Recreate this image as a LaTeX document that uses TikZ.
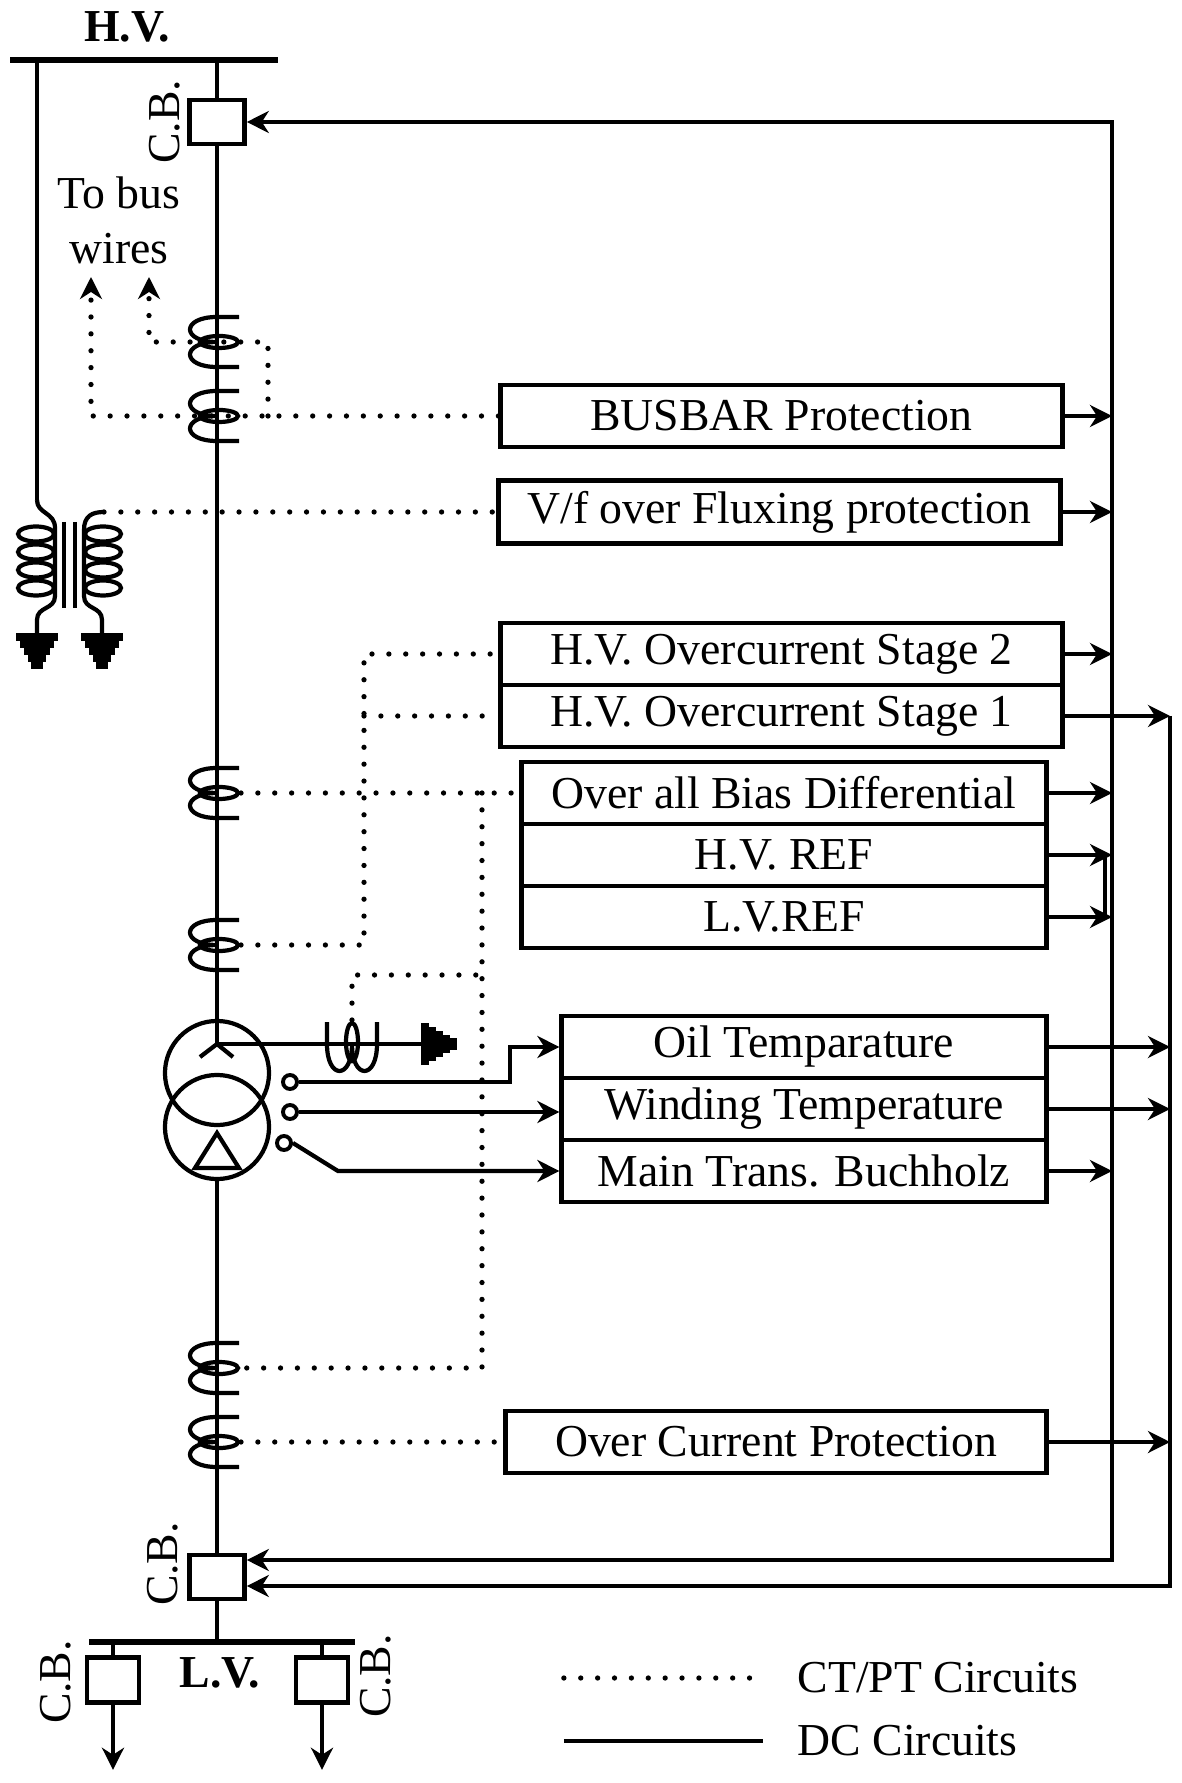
\documentclass[tikz,border=0pt]{standalone}
\usepackage{fontspec}
\setmainfont{Liberation Serif}
\usetikzlibrary{arrows.meta}

\newcommand\diafont{\fontsize{13pt}{15.6pt}\selectfont}

\tikzset{
  wire/.style={line width=1.2pt},
  bus/.style={line width=1.5pt},
  dc/.style={line width=1.2pt},
  ctpt/.style={line width=1.5pt, line cap=round, dash pattern=on 0pt off 4.8pt},
  relay/.style={draw, line width=1.4pt, minimum height=0.62cm, inner sep=0pt},
  breaker/.style={draw, line width=1.3pt, fill=white, minimum width=0.55cm, minimum height=0.44cm, inner sep=0pt},
  winding/.style={draw, circle, line width=1.2pt, minimum size=1.04cm, inner sep=0pt},
  tap/.style={draw, circle, line width=1.1pt, minimum size=0.14cm, inner sep=0pt},
  txt/.style={inner sep=0pt},
  ct/.pic={
    \draw[wire] (22,-25) -- (0,-25) .. controls (-36,-25) and (-36,0) .. (0,0)
                .. controls (-36,0) and (-36,25) .. (0,25) -- (22,25);
    \draw[wire] (2,0) ellipse [x radius=19, y radius=6];
    \coordinate (-c) at (0,0);
    \coordinate (-o) at (24,0);
  },
  earth/.pic={
    \foreach \w [count=\i from 0] in {21,17,13,9,6}
      \draw[line width=2pt] (-\w,7*\i) -- (\w,7*\i);
  },
}

\begin{document}
\begin{tikzpicture}[x=0.01cm, y=-0.01cm, font=\diafont,
  >={Stealth[length=0.22cm, width=0.22cm, inset=0.07cm]}]
\useasboundingbox (0,0) rectangle (1181,1783);

% H.V. bus and breaker
\node[txt, font=\diafont\bfseries] (hvlbl) at (127,27) {H.V.};
\coordinate (hvL) at (10,60);
\coordinate (hvR) at (278,60);
\draw[bus] (hvL) -- (hvR);
\node[breaker] (cbhv) at (217,122) {};
\node[txt, rotate=90] (cbhvlbl) at (165,122) {C.B.};
\draw[wire] (cbhv.north |- hvL) -- (cbhv.north);

% transformer
\node[winding] (trhv) at (217,1073) {};
\node[winding] (trlv) at (217,1127) {};
\coordinate (star) at (217,1044);
\draw[wire] (cbhv.south) -- (star);
\draw[wire] (200,1057) -- (star) -- (233,1057);
\draw[wire] (217,1133) -- (239,1168) -- (195,1168) -- cycle;
\coordinate (gndN) at (425,1044);
\draw[wire] (star) -- (gndN);
\pic[rotate=90] at (gndN) {earth};
\pic[rotate=90] (ctN) at (352,1044) {ct};

% current transformers
\pic (ct1) at (217,342) {ct};
\pic (ct2) at (217,416) {ct};
\pic (ctA) at (217,793) {ct};
\pic (ctB) at (217,945) {ct};
\pic (ctC) at (217,1368) {ct};
\pic (ctD) at (217,1442) {ct};

% L.V. side
\node[breaker] (cblv) at (217,1577) {};
\node[txt, rotate=90] (cblvlbl) at (163,1564) {C.B.};
\draw[wire] (trlv.south) -- (cblv.north);
\coordinate (lvL) at (89,1642);
\coordinate (lvR) at (355,1642);
\draw[bus] (lvL) -- (lvR);
\draw[wire] (cblv.south) -- (cblv.south |- lvL);
\node[breaker, minimum width=0.52cm, minimum height=0.45cm] (cbl) at (113,1680) {};
\node[breaker, minimum width=0.52cm, minimum height=0.45cm] (cbr) at (322,1680) {};
\draw[wire] (cbl.north |- lvL) -- (cbl.north);
\draw[wire] (cbr.north |- lvL) -- (cbr.north);
\draw[wire,->] (cbl.south) -- ++(0,65);
\draw[wire,->] (cbr.south) -- ++(0,65);
\node[txt, rotate=90] (cbllbl) at (56,1682) {C.B.};
\node[txt, rotate=90] (cbrlbl) at (376,1676) {C.B.};
\node[txt, font=\diafont\bfseries] (lvlbl) at (220,1673) {L.V.};

% potential transformer
\coordinate (ptP) at (37,500);
\coordinate (ptout) at (104,512);
\draw[wire] (ptP |- hvL) -- (ptP);
\draw[wire] (ptP) .. controls (37,514) and (55,512) .. (55,528) -- (55,596)
            .. controls (55,610) and (37,606) .. (37,620) -- (37,637);
\draw[wire] (ptout) .. controls (92,512) and (84,516) .. (84,530) -- (84,596)
            .. controls (84,610) and (102,606) .. (102,620) -- (102,637);
\foreach \yy in {534,552,570,588} {
  \draw[wire] (36,\yy) ellipse [x radius=18, y radius=7.5];
  \draw[wire] (103,\yy) ellipse [x radius=18, y radius=7.5];
}
\draw[wire] (64,522) -- (64,608);
\draw[wire] (75,522) -- (75,608);
\pic at (37,637) {earth};
\pic at (102,637) {earth};

% relays
\node[relay, minimum width=5.61cm] (busbar) at (781.5,416) {BUSBAR Protection};
\node[relay, minimum width=5.61cm, minimum height=0.63cm] (vf) at (779.5,512) {V/f over Fluxing protection};
\node[relay, minimum width=5.61cm] (hvoc2) at (781.5,654) {H.V. Overcurrent Stage 2};
\node[relay, minimum width=5.61cm] (hvoc1) at (781.5,716) {H.V. Overcurrent Stage 1};
\node[relay, minimum width=5.24cm] (bias) at (784,793) {Over all Bias Differential};
\node[relay, minimum width=5.24cm] (hvref) at (784,855) {H.V. REF};
\node[relay, minimum width=5.24cm] (lvref) at (784,917) {L.V.REF};
\node[relay, minimum width=4.84cm] (oil) at (804,1047) {Oil Temparature};
\node[relay, minimum width=4.84cm] (wind) at (804,1109) {Winding Temperature};
\node[relay, minimum width=4.84cm] (buch) at (804,1171) {Main Trans. Buchholz};
\node[relay, minimum width=5.40cm] (ocp) at (776,1442) {Over Current Protection};

% DC trip circuits
\coordinate (dcA) at (1112,1560);
\coordinate (dcB) at (1170,1586);
\draw[dc,<->] (cbhv.east) -| (dcA) -- (dcA -| cblv.east);
\draw[dc,->] (dcB |- hvoc1.east) -- (dcB) -- (dcB -| cblv.east);
\foreach \n in {busbar, vf, hvoc2, bias, hvref, lvref, buch}
  \draw[dc,->] (\n.east) -- (\n.east -| dcA);
\foreach \n in {hvoc1, oil, wind, ocp}
  \draw[dc,->] (\n.east) -- (\n.east -| dcB);
\coordinate (refjoin) at (1105,855);
\draw[dc] (hvref.east -| refjoin) -- (lvref.east -| refjoin);

% transformer taps
\node[tap] (t1) at (290,1082) {};
\node[tap] (t2) at (290,1112) {};
\node[tap] (t3) at (284,1143) {};
\draw[dc,->] (t1.east) -- ++(211,0) |- (oil.west);
\draw[dc,->] (t2.east) -- (t2.east -| wind.west);
\draw[dc,->] (t3.east) -- ++(45,28) -- (buch.west);

% CT/PT circuits
\node[txt, align=center] (tobus) at (119,220) {To bus\\wires};
\coordinate (tb1) at (91,277);
\coordinate (tb2) at (149,277);
\coordinate (jT) at (268,416);
\draw[ctpt,->] (busbar.west) -| (tb1);
\draw[ctpt,->] (jT) |- (ct1-c) -| (tb2);
\draw[ctpt] (ptout) -- (vf.west);
\coordinate (jC) at (482,1368);
\coordinate (jN) at (482,975);
\draw[ctpt] (ctA-o) -- (bias.west);
\draw[ctpt] (ctA-o -| jC) -- (jC) -- (ctC-o);
\draw[ctpt] (ctN-o) |- (jN);
\coordinate (jS) at (364,945);
\draw[ctpt] (ctB-o) -- (jS) |- (hvoc2.west);
\draw[ctpt] (jS |- hvoc1.west) -- (hvoc1.west);
\draw[ctpt] (ctD-o) -- (ocp.west);

% legend
\node[txt, anchor=west] (ctptlbl) at (797,1678) {CT/PT Circuits};
\node[txt, anchor=west] (dclbl) at (797,1741) {DC Circuits};
\draw[ctpt] ([xshift=-2.33cm]ctptlbl.west) -- ([xshift=-0.40cm]ctptlbl.west);
\draw[dc, line width=1.4pt] ([xshift=-2.33cm]dclbl.west) -- ([xshift=-0.34cm]dclbl.west);

\end{tikzpicture}
\end{document}
